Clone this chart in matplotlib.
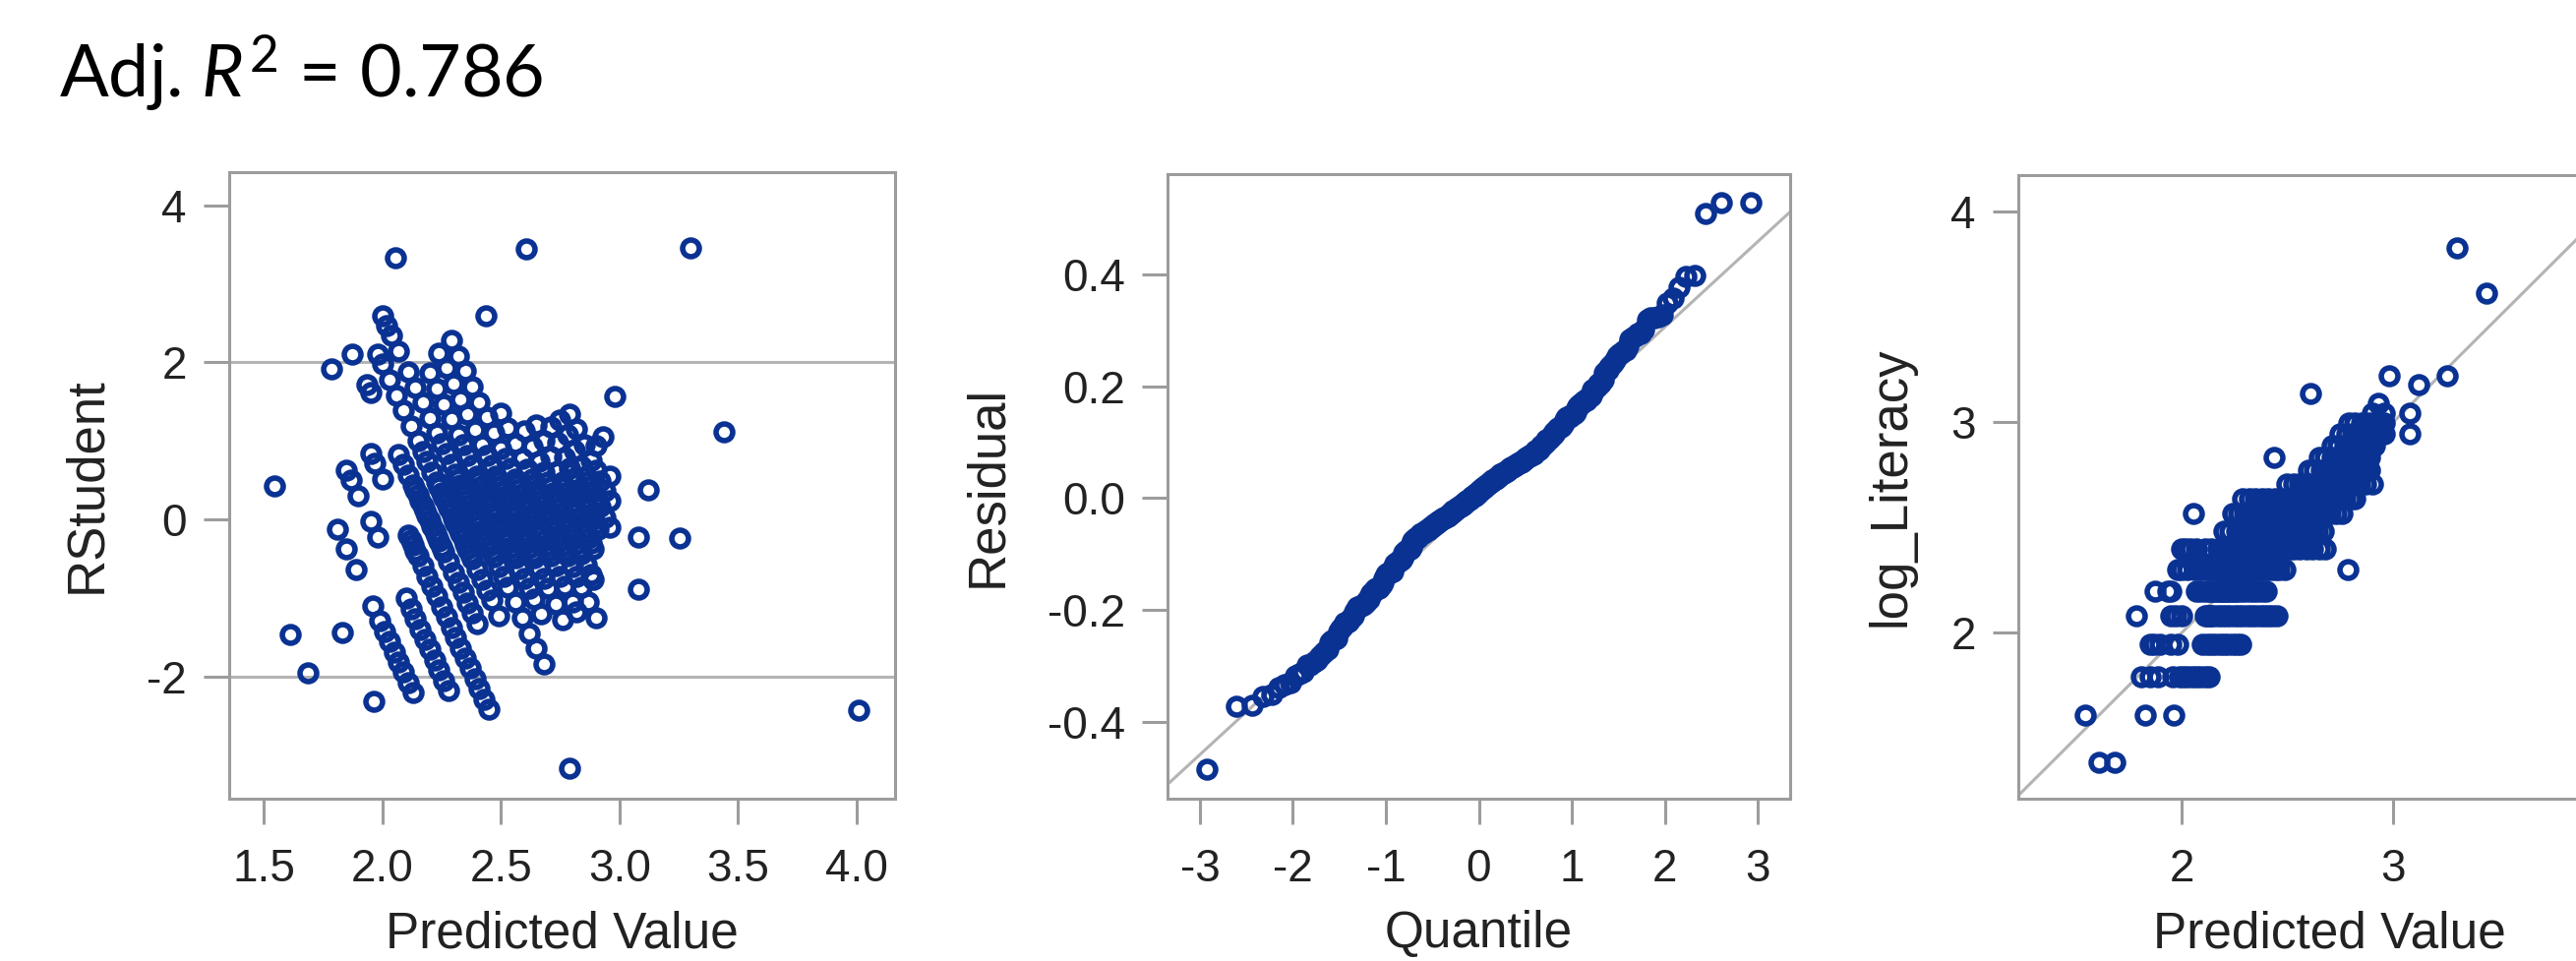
import numpy as np
import matplotlib.pyplot as plt
from statistics import NormalDist

# Observed Literacy levels (log_Literacy = ln of these) and the predicted
# values of the observations in each level, read off the right-hand panel
lit_levels = [4, 5, 6, 7, 8, 9, 10, 11, 12, 13, 14, 15, 16, 17, 18, 19, 20,
              21, 22, 23, 24, 25, 37, 38, 46]

pred_04 = [1.61, 1.685]
pred_05 = [1.545, 1.83, 1.965]
pred_06 = [1.81, 1.85, 1.89, 1.96, 1.99, 2.01, 2.03, 2.05, 2.07, 2.09, 2.11, 2.13]
pred_07 = [1.85, 1.87, 1.90, 1.95, 1.98, 2.10, 2.12, 2.14, 2.16, 2.18, 2.20,
           2.22, 2.24, 2.26, 2.28]
pred_08 = [1.785, 1.95, 1.97, 2.00, 2.11, 2.12, 2.13, 2.14, 2.15, 2.17, 2.19,
           2.21, 2.23, 2.25, 2.27, 2.29, 2.31, 2.33, 2.35, 2.37, 2.39, 2.41,
           2.43, 2.45]
pred_09 = [1.875, 1.935, 1.95, 2.07, 2.09, 2.11, 2.13, 2.14, 2.15, 2.16, 2.17,
           2.18, 2.19, 2.20, 2.21, 2.22, 2.23, 2.24, 2.25, 2.26, 2.28, 2.30,
           2.32, 2.34, 2.36, 2.38, 2.40]
pred_10 = [1.98, 2.00, 2.03, 2.06, 2.09, 2.12, 2.15, 2.17, 2.19, 2.21, 2.23,
           2.24, 2.25, 2.26, 2.27, 2.28, 2.29, 2.30, 2.31, 2.32, 2.33, 2.34,
           2.35, 2.36, 2.37, 2.38, 2.40, 2.42, 2.44, 2.46, 2.49, 2.788]
pred_11 = [2.00, 2.02, 2.04, 2.07, 2.11, 2.14, 2.17, 2.20, 2.23, 2.25, 2.27,
           2.29, 2.31, 2.32, 2.33, 2.34, 2.35, 2.36, 2.37, 2.38, 2.39, 2.40,
           2.41, 2.42, 2.43, 2.44, 2.45, 2.46, 2.47, 2.49, 2.51, 2.53, 2.56,
           2.59, 2.62, 2.65, 2.68]
pred_12 = [2.20, 2.23, 2.26, 2.29, 2.32, 2.34, 2.36, 2.38, 2.40, 2.41, 2.42,
           2.43, 2.44, 2.45, 2.46, 2.47, 2.48, 2.49, 2.50, 2.51, 2.52, 2.53,
           2.54, 2.55, 2.56, 2.58, 2.60, 2.62, 2.64, 2.67]
pred_13 = [2.055, 2.24, 2.27, 2.30, 2.33, 2.36, 2.39, 2.42, 2.44, 2.46, 2.48,
           2.49, 2.50, 2.51, 2.52, 2.53, 2.54, 2.55, 2.56, 2.57, 2.58, 2.59,
           2.60, 2.61, 2.62, 2.63, 2.64, 2.66, 2.68, 2.70, 2.73, 2.76]
pred_14 = [2.29, 2.32, 2.35, 2.38, 2.41, 2.44, 2.47, 2.50, 2.52, 2.54, 2.56,
           2.57, 2.58, 2.59, 2.60, 2.61, 2.62, 2.63, 2.64, 2.65, 2.66, 2.67,
           2.68, 2.69, 2.70, 2.71, 2.73, 2.75, 2.77, 2.80, 2.82]
pred_15 = [2.50, 2.53, 2.56, 2.59, 2.61, 2.63, 2.64, 2.65, 2.66, 2.67, 2.68,
           2.69, 2.70, 2.71, 2.72, 2.73, 2.74, 2.75, 2.76, 2.77, 2.78, 2.80,
           2.82, 2.84, 2.87, 2.90]
pred_16 = [2.60, 2.63, 2.66, 2.68, 2.70, 2.71, 2.72, 2.73, 2.74, 2.75, 2.76,
           2.77, 2.78, 2.79, 2.80, 2.81, 2.82, 2.83, 2.84, 2.86, 2.88, 2.89]
pred_17 = [2.436, 2.65, 2.68, 2.71, 2.74, 2.76, 2.77, 2.78, 2.79, 2.80, 2.81,
           2.82, 2.83, 2.84, 2.85, 2.86, 2.87, 2.88, 2.89]
pred_18 = [2.71, 2.74, 2.77, 2.79, 2.81, 2.82, 2.83, 2.84, 2.85, 2.86, 2.87,
           2.88, 2.89, 2.90, 2.91]
pred_19 = [2.75, 2.78, 2.81, 2.84, 2.86, 2.88, 2.89, 2.90, 2.91, 2.92, 2.94,
           2.96, 3.08]
pred_20 = [2.79, 2.82, 2.85, 2.88, 2.90, 2.92, 2.94, 2.96]
pred_21 = [2.90, 2.96, 3.08]
pred_22 = [2.93]
pred_23 = [2.607]
pred_24 = [3.12]
pred_25 = [2.98, 3.256]
pred_37 = [3.44]
pred_38 = [4.01]
pred_46 = [3.30]

root_mse = 0.153  # slope of the Q-Q reference line
adj_r2 = 0.786

pred_groups = [pred_04, pred_05, pred_06, pred_07, pred_08, pred_09, pred_10,
               pred_11, pred_12, pred_13, pred_14, pred_15, pred_16, pred_17,
               pred_18, pred_19, pred_20, pred_21, pred_22, pred_23, pred_24,
               pred_25, pred_37, pred_38, pred_46]

pred = np.concatenate([np.array(g, float) for g in pred_groups])
log_lit = np.concatenate([np.full(len(g), np.log(lv))
                          for g, lv in zip(pred_groups, lit_levels)])
resid = log_lit - pred
rstudent = resid / root_mse

# normal quantiles (Blom) for the Q-Q plot
n = len(resid)
nd = NormalDist()
quant = np.array([nd.inv_cdf((i - 0.375) / (n + 0.25)) for i in range(1, n + 1)])
resid_sorted = np.sort(resid)

# --------------------------
# style
# --------------------------
plt.rcParams['font.family'] = ['Liberation Sans', 'DejaVu Sans']
plt.rcParams['axes.unicode_minus'] = False
plt.rcParams['mathtext.fontset'] = 'custom'
plt.rcParams['mathtext.rm'] = 'Lato'
plt.rcParams['mathtext.it'] = 'Lato:italic'

BLUE = '#0a3292'
FRAME = '#9c9c9c'
REF = '#b4b4b4'
TXT = '#222222'

mk = dict(ls='none', marker='o', ms=12.2, mew=4.0, mfc='none', mec=BLUE)

fig = plt.figure(figsize=(26.19, 9.77), dpi=100)


def style(ax):
    for s in ax.spines.values():
        s.set_color(FRAME)
        s.set_linewidth(2.2)
    ax.tick_params(length=19, width=2.2, color=FRAME, labelsize=33,
                   labelcolor=TXT)
    ax.tick_params(axis='x', pad=17)
    ax.tick_params(axis='y', pad=12)


# Panel 1: RStudent vs predicted
ax1 = fig.add_axes([233 / 2619, 165 / 977, 677 / 2619, 637 / 977])
ax1.axhline(2, color=REF, lw=2.2, zorder=1)
ax1.axhline(-2, color=REF, lw=2.2, zorder=1)
ax1.plot(pred, rstudent, **mk, zorder=3)
ax1.set_xlim(1.355, 4.162)
ax1.set_ylim(-3.561, 4.426)
ax1.set_xticks([1.5, 2.0, 2.5, 3.0, 3.5, 4.0])
ax1.set_xticklabels(['1.5', '2.0', '2.5', '3.0', '3.5', '4.0'])
ax1.set_yticks([-2, 0, 2, 4])
ax1.set_xlabel('Predicted Value', fontsize=37, color=TXT, labelpad=14)
ax1.set_ylabel('RStudent', fontsize=38, color=TXT, labelpad=26)
style(ax1)

# Panel 2: residual Q-Q plot
ax2 = fig.add_axes([1187 / 2619, 165 / 977, 633 / 2619, 635 / 977])
qx = np.array([-3.5, 3.5])
ax2.plot(qx, root_mse * qx, color=REF, lw=2.2, zorder=1)
ax2.plot(quant, resid_sorted, **mk, zorder=3)
ax2.set_xlim(-3.349, 3.349)
ax2.set_ylim(-0.538, 0.580)
ax2.set_xticks([-3, -2, -1, 0, 1, 2, 3])
ax2.set_yticks([-0.4, -0.2, 0.0, 0.2, 0.4])
ax2.set_yticklabels(['-0.4', '-0.2', '0.0', '0.2', '0.4'])
ax2.set_xlabel('Quantile', fontsize=37, color=TXT, labelpad=14)
ax2.set_ylabel('Residual', fontsize=38, color=TXT, labelpad=26)
style(ax2)

# Panel 3: observed vs predicted (runs past the right edge of the figure)
ax3 = fig.add_axes([2052 / 2619, 165 / 977, 633 / 2619, 634 / 977])
dx = np.array([1.0, 4.5])
ax3.plot(dx, dx, color=REF, lw=2.2, zorder=1)
ax3.plot(pred, log_lit, **mk, zorder=3)
ax3.set_xlim(1.228, 4.172)
ax3.set_ylim(1.213, 4.173)
ax3.set_xticks([2, 3])
ax3.set_yticks([2, 3, 4])
ax3.set_xlabel('Predicted Value', fontsize=37, color=TXT, labelpad=14)
ax3.set_ylabel('log_Literacy', fontsize=38, color=TXT, labelpad=26)
style(ax3)

fig.text(60 / 2619, 1 - 100 / 977, r'Adj. $R^2$ = %.3f' % adj_r2,
         fontsize=53, family='Lato', color='black', va='baseline')

fig.savefig('out.png', dpi=100)
